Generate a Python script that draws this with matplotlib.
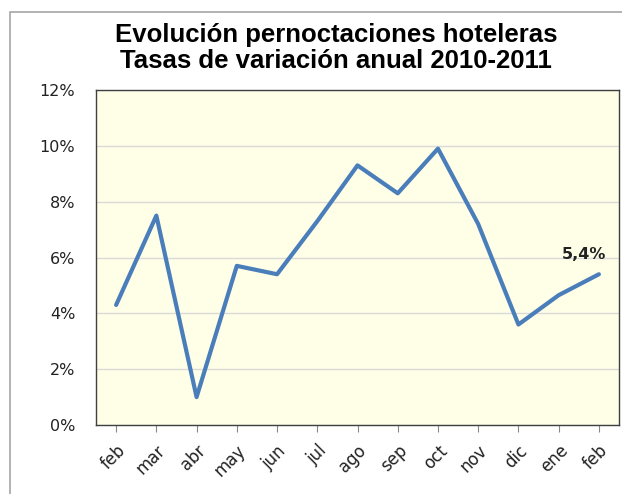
import matplotlib
matplotlib.use("Agg")
import matplotlib.pyplot as plt
from matplotlib.patches import Rectangle
import numpy as np

# data
meses = ['feb', 'mar', 'abr', 'may', 'jun', 'jul', 'ago', 'sep', 'oct', 'nov', 'dic', 'ene', 'feb']
tasa = [4.3, 7.5, 1.0, 5.7, 5.4, 7.3, 9.3, 8.3, 9.9, 7.2, 3.6, 4.65, 5.4]
ultimo_valor = '5,4%'
y_ticks = [0, 2, 4, 6, 8, 10, 12]

fig = plt.figure(figsize=(6.22, 4.94), dpi=100)
fig.patch.set_facecolor('white')

# outer chart frame
fig.patches.append(Rectangle((10 / 622, -0.05), 1.0, 1 - 12 / 494 + 0.05,
                             transform=fig.transFigure, fill=False,
                             edgecolor='#A6A6A6', linewidth=1.2))

ax = fig.add_axes([96 / 622, 1 - 425 / 494, 523 / 622, 335 / 494])
ax.set_facecolor('#FFFEE6')

x = np.arange(len(meses))
ax.plot(x, tasa, '-', c='#4A7EBB', linewidth=3, solid_capstyle='round')

ax.set_xlim(-0.5, len(meses) - 0.5)
ax.set_ylim(0, 12)
ax.set_yticks(y_ticks)
ax.set_yticklabels([f'{v}%' for v in y_ticks], fontsize=11.5, color='#222222')
ax.tick_params(axis='y', length=0, pad=15)

ax.set_xticks(x)
ax.set_xticklabels(meses, rotation=45, ha='right', rotation_mode='anchor',
                   fontsize=12, color='#222222')
ax.tick_params(axis='x', which='major', length=5, direction='out', color='#888888', pad=7)

ax.grid(True, axis='y', color='#DADADA', linewidth=1)
ax.set_axisbelow(True)
for s in ax.spines.values():
    s.set_color('#404040')
    s.set_linewidth(1)

ax.annotate(ultimo_valor, (x[-1], tasa[-1]), xytext=(-11, 9), textcoords='offset points',
            ha='center', va='bottom', fontsize=11.5, fontweight='bold', color='#222222')

fig.text(336 / 622, 1 - 48 / 494, 'Evolución pernoctaciones hoteleras\nTasas de variación anual 2010-2011',
         ha='center', va='center', fontsize=18.5, fontweight='bold',
         family='Liberation Sans', linespacing=1.15, color='black')

fig.savefig('out.png', dpi=100)
